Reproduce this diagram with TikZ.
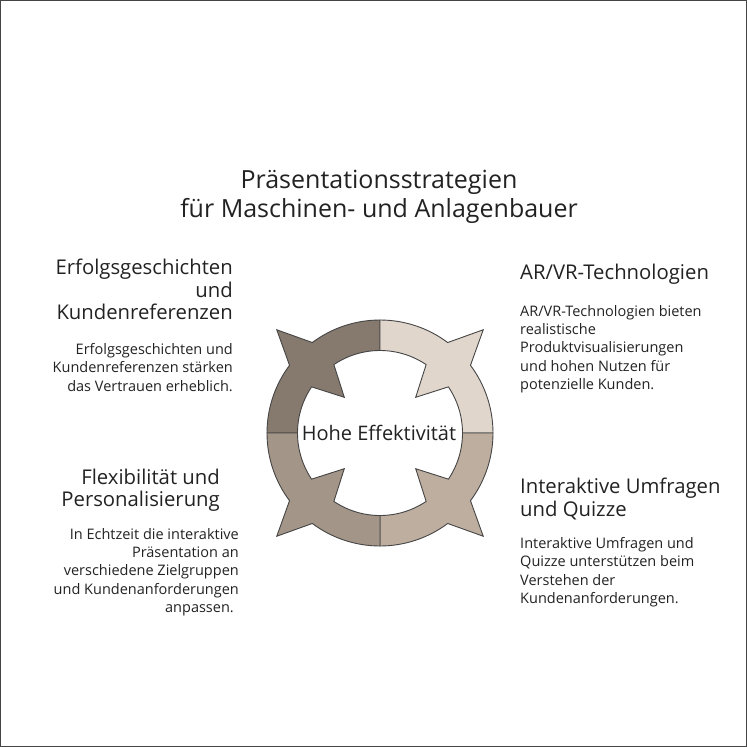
\documentclass[tikz,border=0pt]{standalone}
\usepackage{fontspec}
\setmainfont{Open Sans}
\definecolor{segA}{HTML}{867A6F}
\definecolor{segB}{HTML}{E0D6CC}
\definecolor{segC}{HTML}{BDAE9F}
\definecolor{segD}{HTML}{A39587}
\definecolor{edge}{HTML}{454545}
\definecolor{txt}{HTML}{222222}
\tikzset{
  seg/.style={draw=edge, line width=0.9pt, line join=miter},
  title/.style={font=\fontsize{25}{29}\selectfont, text=txt, inner sep=0pt, align=center},
  head/.style={font=\fontsize{20.3}{22.4}\selectfont, text=txt, inner sep=0pt},
  body/.style={font=\fontsize{14.5}{18.2}\selectfont, text=txt, inner sep=0pt},
}
\newcommand{\ringseg}[2]{%
  \path[seg, fill=#2]
    (#1:113pt) arc[start angle=#1, end angle=#1+36.8, radius=113pt]
    -- (#1+45:146pt) -- (#1+53.2:113pt)
    arc[start angle=#1+53.2, end angle=#1+90, radius=113pt]
    -- (#1+90:82.5pt)
    arc[start angle=#1+90, end angle=#1+56, radius=82.5pt]
    -- (#1+45:50.5pt) -- (#1+34:82.5pt)
    arc[start angle=#1+34, end angle=#1, radius=82.5pt] -- cycle;}
\begin{document}
\begin{tikzpicture}[x=1pt, y=-1pt]
\useasboundingbox (0,0) rectangle (747,747);
\draw[draw=edge, line width=1pt] (0.5,0.5) rectangle (746.5,746.5);
\begin{scope}[shift={(380,433)}]
  \ringseg{90}{segA}
  \ringseg{0}{segB}
  \ringseg{270}{segC}
  \ringseg{180}{segD}
\end{scope}
\node[font=\fontsize{20}{24}\selectfont, text=txt, inner sep=0pt, anchor=base] (center) at (379,440.7) {Hohe Effektivität};
\node[title, anchor=base] (ttl) at (379,217) {Präsentationsstrategien\\für Maschinen- und Anlagenbauer};
\node[head, align=right, anchor=base east] (h1) at (233,319.5) {Erfolgsgeschichten\\und\\Kundenreferenzen};
\node[body, align=right, anchor=base east] (b1) at (233,391) {Erfolgsgeschichten und\\Kundenreferenzen stärken\\das Vertrauen erheblich.};
\node[head, align=left, anchor=base west] (h2) at (520,279.3) {AR/VR-Technologien};
\node[body, align=left, anchor=base west] (b2) at (520,389.3) {AR/VR-Technologien bieten\\realistische\\Produktvisualisierungen\\und hohen Nutzen für\\potenzielle Kunden.};
\node[head, align=right, anchor=base east] (h3) at (220,506.7) {Flexibilität und\\Personalisierung};
\node[body, align=right, anchor=base east] (b3) at (239,612.3) {In Echtzeit die interaktive\\Präsentation an\\verschiedene Zielgruppen\\und Kundenanforderungen\\anpassen.\hspace*{5pt}};
\node[head, align=left, anchor=base west] (h4) at (520,516) {Interaktive Umfragen\\und Quizze};
\node[body, align=left, anchor=base west] (b4) at (520,603.3) {Interaktive Umfragen und\\Quizze unterstützen beim\\Verstehen der\\Kundenanforderungen.};
\end{tikzpicture}
\end{document}
